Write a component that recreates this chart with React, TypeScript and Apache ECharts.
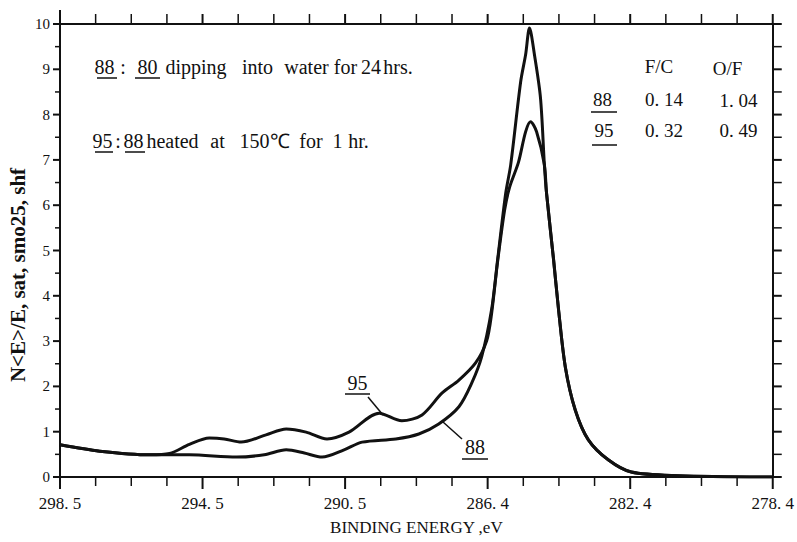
import React, { useEffect, useRef } from "react";
import * as echarts from "echarts";

// Binding-energy window of the C1s scan (eV); the axis runs from high to low energy.
const EV_HIGH = 298.5;
const EV_LOW = 278.4;
const EV_TICK_STEP = 4.02;
const EV_MINOR_PER_MAJOR = 4;

const yTicks = { min: 0, max: 10, step: 1 };

// Sample 88: film dipped into water for 24 hrs.
const energy88 = [
  298.5, 297.38, 295.97, 294.85, 293.52, 292.74, 292.12, 291.61, 291.11, 290.49,
  289.98, 289.03, 288.38, 287.82, 287.25, 286.89, 286.61, 286.33, 286.16, 285.93,
  285.79, 285.51, 285.37, 285.26, 285.12, 284.95, 284.84, 284.78, 284.58, 284.44,
  284.25, 283.97, 283.6, 283.04, 282.39, 281.07, 278.4,
];
const counts88 = [
  0.71, 0.57, 0.49, 0.49, 0.44, 0.49, 0.6, 0.53, 0.44, 0.6,
  0.77, 0.84, 0.95, 1.17, 1.55, 2.07, 2.65, 3.69, 4.79, 6.27,
  6.89, 8.72, 9.32, 9.91, 9.32, 8.37, 6.89, 6.27, 4.79, 3.69,
  2.43, 1.48, 0.82, 0.38, 0.11, 0.03, 0.0,
];

// Sample 95: sample 88 heated at 150 °C for 1 hr.
const energy95 = [
  298.5, 297.38, 295.97, 295.41, 294.85, 294.29, 293.87, 293.39, 292.69, 292.12,
  291.56, 290.97, 290.35, 289.5, 288.86, 288.29, 287.73, 287.25, 286.78, 286.47,
  286.33, 286.16, 285.96, 285.82, 285.57, 285.37, 285.23, 285.06, 284.84, 284.78,
  284.58, 284.44, 284.25, 283.97, 283.6, 283.04, 282.39, 281.07, 278.4,
];
const counts95 = [
  0.71, 0.57, 0.49, 0.52, 0.72, 0.86, 0.84, 0.77, 0.93, 1.06,
  0.99, 0.84, 0.99, 1.41, 1.24, 1.37, 1.85, 2.14, 2.52, 3.0,
  3.6, 4.75, 5.9, 6.4, 6.95, 7.62, 7.84, 7.62, 6.89, 6.27,
  4.79, 3.69, 2.43, 1.48, 0.82, 0.38, 0.11, 0.03, 0.0,
];

// Atomic ratios from the survey spectra
const ratioHeaders = ["F/C", "O/F"];
const ratioSamples = ["88", "95"];
const ratioFC = ["0. 14", "0. 32"];
const ratioOF = ["1. 04", "0. 49"];

const SERIF = "'Liberation Serif', 'Times New Roman', serif";
const INK = "#111";

// distance from the high-energy end, so the axis reads right-to-left in eV
const toOffset = (ev: number) => EV_HIGH - ev;
const fmtEv = (v: number) => (EV_HIGH - v).toFixed(1).replace(".", ". ");

const pairs = (xs: number[], ys: number[]) => xs.map((x, i) => [toOffset(x), ys[i]]);

// Frame ticks: [side, position, isMajor]; side 0 bottom, 1 top, 2 left, 3 right
const SIDE = { bottom: 0, top: 1, left: 2, right: 3 };
function frameTicks(): number[][] {
  const out: number[][] = [];
  const span = toOffset(EV_LOW);
  const minorStep = EV_TICK_STEP / EV_MINOR_PER_MAJOR;
  const nx = Math.round(span / minorStep);
  for (let k = 0; k <= nx; k++) {
    const major = k % EV_MINOR_PER_MAJOR === 0 ? 1 : 0;
    out.push([SIDE.bottom, k * minorStep, major]);
    out.push([SIDE.top, k * minorStep, major]);
  }
  const ny = Math.round((yTicks.max - yTicks.min) / (yTicks.step / 2));
  for (let k = 0; k <= ny; k++) {
    const v = yTicks.min + (k * yTicks.step) / 2;
    const major = k % 2 === 0 ? 1 : 0;
    out.push([SIDE.left, v, major]);
    out.push([SIDE.right, v, major]);
  }
  return out;
}

const txt = (text: string, x: number, y: number, size = 20, align = "center", weight = "normal") => ({
  type: "text",
  x,
  y,
  silent: true,
  style: {
    text,
    fill: INK,
    font: `${weight} ${size}px ${SERIF}`,
    textAlign: align,
    textVerticalAlign: "middle",
  },
});

const rule = (x1: number, y1: number, x2: number, y2: number, w = 1.5) => ({
  type: "line",
  silent: true,
  shape: { x1, y1, x2, y2 },
  style: { stroke: INK, lineWidth: w },
});

export default function App() {
  const ref = useRef<HTMLDivElement>(null);

  useEffect(() => {
    if (!ref.current) return;
    const chart = echarts.init(ref.current, undefined, { renderer: "svg" });

    const span = toOffset(EV_LOW);
    const frameLine = { show: true, onZero: false, lineStyle: { color: INK, width: 2 } };

    const graphics: any[] = [
      // y-axis title
      {
        type: "text",
        x: 18,
        y: 275,
        rotation: Math.PI / 2,
        silent: true,
        style: {
          text: "N<E>/E, sat, smo25, shf",
          fill: INK,
          font: `bold 21px ${SERIF}`,
          textAlign: "center",
          textVerticalAlign: "middle",
        },
      },
      // sample descriptions
      txt("88", 104.5, 66.5),
      txt(":", 123, 66.5),
      txt("80", 147.5, 66.5),
      txt("dipping", 196, 66.5),
      txt("into", 257.5, 66.5),
      txt("water", 306.5, 66.5),
      txt("for", 345.5, 66.5),
      txt("24", 371, 66.5),
      txt("hrs.", 398, 66.5),
      rule(97, 78, 117, 78),
      rule(135, 78, 160, 78),

      txt("95", 102.5, 141),
      txt(":", 118, 141),
      txt("88", 133.5, 141),
      txt("heated", 172.5, 141),
      txt("at", 217.5, 141),
      txt("150℃", 264.5, 141),
      txt("for", 311, 141),
      txt("1", 337.5, 141),
      txt("hr.", 358.5, 141),
      rule(95, 152, 113, 152),
      rule(125, 152, 145, 152),

      // ratio table
      txt(ratioHeaders[0], 659, 66, 19),
      txt(ratioHeaders[1], 727.5, 68, 19),
      txt(ratioSamples[0], 602.5, 99, 19),
      txt(ratioFC[0], 664, 99, 19),
      txt(ratioOF[0], 738.5, 100, 19),
      rule(591, 112, 617, 112),
      txt(ratioSamples[1], 604, 130, 19),
      txt(ratioFC[1], 664, 130, 19),
      txt(ratioOF[1], 738.5, 130, 19),
      rule(592, 145, 617, 145),

      // curve callouts
      txt("95", 357.5, 383, 20),
      rule(345, 394, 370, 394),
      rule(368, 397, 383, 415, 1.5),
      txt("88", 475, 447, 20),
      rule(462, 459, 488, 459),
      rule(443, 422, 462, 439, 1.5),
    ];

    chart.setOption({
      animation: false,
      backgroundColor: "#fff",
      grid: { left: 60, right: 22, top: 24, bottom: 65, containLabel: false },
      xAxis: [
        {
          type: "value",
          position: "bottom",
          min: 0,
          max: span,
          interval: EV_TICK_STEP,
          axisLine: frameLine,
          axisTick: { show: false },
          splitLine: { show: false },
          axisLabel: {
            formatter: fmtEv,
            margin: 18,
            color: INK,
            fontFamily: SERIF,
            fontSize: 17,
            showMaxLabel: true,
            showMinLabel: true,
          },
          name: "BINDING ENERGY ,eV",
          nameLocation: "middle",
          nameGap: 42,
          nameTextStyle: { color: INK, fontFamily: SERIF, fontSize: 17 },
        },
        {
          type: "value",
          position: "top",
          min: 0,
          max: span,
          interval: EV_TICK_STEP,
          axisLine: frameLine,
          axisTick: { show: false },
          splitLine: { show: false },
          axisLabel: { show: false },
        },
      ],
      yAxis: [
        {
          type: "value",
          position: "left",
          min: yTicks.min,
          max: yTicks.max,
          interval: yTicks.step,
          axisLine: frameLine,
          axisTick: { show: false },
          splitLine: { show: false },
          axisLabel: { margin: 10, color: INK, fontFamily: SERIF, fontSize: 15 },
        },
        {
          type: "value",
          position: "right",
          min: yTicks.min,
          max: yTicks.max,
          interval: yTicks.step,
          axisLine: frameLine,
          axisTick: { show: false },
          splitLine: { show: false },
          axisLabel: { show: false },
        },
      ],
      series: [
        {
          name: "88",
          type: "line",
          xAxisIndex: 0,
          yAxisIndex: 0,
          data: pairs(energy88, counts88),
          showSymbol: false,
          smooth: 0.3,
          lineStyle: { color: INK, width: 3 },
          z: 3,
        },
        {
          name: "95",
          type: "line",
          xAxisIndex: 0,
          yAxisIndex: 0,
          data: pairs(energy95, counts95),
          showSymbol: false,
          smooth: 0.3,
          lineStyle: { color: INK, width: 3 },
          z: 3,
        },
        {
          // outward ticks on all four sides of the frame, placed through the axis scales
          name: "frame ticks",
          type: "custom",
          xAxisIndex: 0,
          yAxisIndex: 0,
          silent: true,
          clip: false,
          z: 4,
          dimensions: ["side", "pos", "major"],
          encode: { x: 1, y: 1 },
          data: frameTicks(),
          renderItem: (_params: any, api: any) => {
            const side = api.value(0);
            const pos = api.value(1);
            const major = api.value(2) === 1;
            let x1 = 0, y1 = 0, x2 = 0, y2 = 0;
            if (side === SIDE.bottom) {
              [x1, y1] = api.coord([pos, yTicks.min]);
              x2 = x1;
              y2 = y1 + (major ? 12 : 9);
            } else if (side === SIDE.top) {
              [x1, y1] = api.coord([pos, yTicks.max]);
              x2 = x1;
              y2 = y1 - (major && pos === 0 ? 14 : 10);
            } else if (side === SIDE.left) {
              [x1, y1] = api.coord([0, pos]);
              x2 = x1 - (major ? 7 : 5);
              y2 = y1;
            } else {
              [x1, y1] = api.coord([span, pos]);
              x2 = x1 + 9;
              y2 = y1;
            }
            return {
              type: "line",
              shape: { x1, y1, x2, y2 },
              style: { stroke: INK, lineWidth: major ? 2 : 1.5 },
            };
          },
        },
      ],
      graphic: graphics,
    });

    return () => chart.dispose();
  }, []);

  return (
    <div
      ref={ref}
      style={{ position: "absolute", left: 0, top: 0, width: 797, height: 542, background: "#fff" }}
    />
  );
}
